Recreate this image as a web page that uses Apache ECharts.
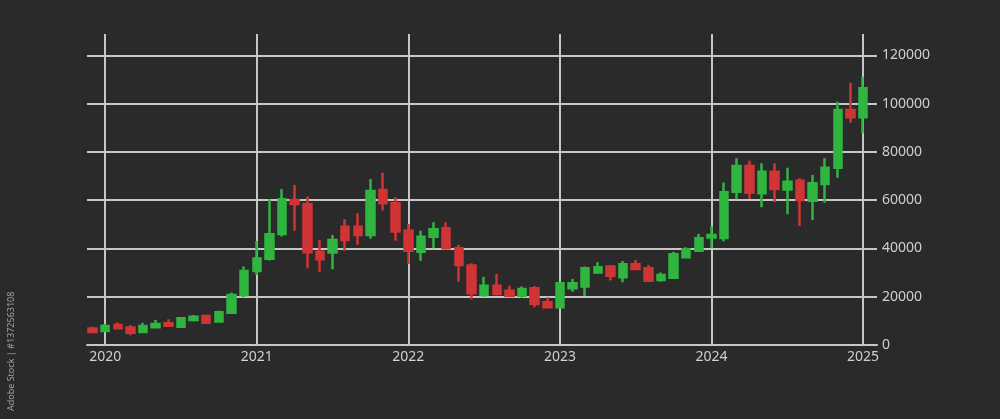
<!DOCTYPE html>
<html>
<head>
<meta charset="utf-8">
<style>
  html, body { margin: 0; padding: 0; background: #2a2a2a; }
  #chart { width: 1000px; height: 419px; }
</style>
<script src="https://cdn.jsdelivr.net/npm/echarts@6/dist/echarts.min.js"></script>
</head>
<body>
<div id="chart"></div>
<script>
const months = [
  '2019-12',
  '2020-01','2020-02','2020-03','2020-04','2020-05','2020-06','2020-07','2020-08','2020-09','2020-10','2020-11','2020-12',
  '2021-01','2021-02','2021-03','2021-04','2021-05','2021-06','2021-07','2021-08','2021-09','2021-10','2021-11','2021-12',
  '2022-01','2022-02','2022-03','2022-04','2022-05','2022-06','2022-07','2022-08','2022-09','2022-10','2022-11','2022-12',
  '2023-01','2023-02','2023-03','2023-04','2023-05','2023-06','2023-07','2023-08','2023-09','2023-10','2023-11','2023-12',
  '2024-01','2024-02','2024-03','2024-04','2024-05','2024-06','2024-07','2024-08','2024-09','2024-10','2024-11','2024-12',
  '2025-01'
];
const opens = [
  6800,
  5800, 8300, 7300, 5400, 7350, 9000, 7600, 10400, 12000, 9700, 13400, 20700,
  30700, 35700, 46000, 60100, 58300, 38700, 38300, 49000, 49000, 45600, 64250, 58700,
  47400, 38700, 44900, 48400, 40100, 32900, 20700, 24600, 22500, 20400, 23500, 17700,
  15600, 23500, 24200, 30100, 32500, 28050, 33450, 31800, 26900, 27900, 36350, 39100,
  44600, 44350, 63550, 74200, 62900, 71800, 64500, 68100, 59800, 66700, 73500, 97400,
  94400
];
const closes = [
  5400,
  7900, 6900, 5100, 7900, 8700, 8000, 11100, 11700, 9250, 13550, 20700, 30700,
  35900, 45900, 60400, 58400, 38400, 35500, 43500, 43500, 45600, 63800, 58700, 47000,
  39100, 44900, 47950, 40100, 33200, 21400, 24600, 21100, 20300, 23200, 17000, 15600,
  25600, 25600, 31800, 32200, 28700, 33450, 31500, 26650, 29000, 37600, 39700, 44200,
  45600, 63300, 74200, 63150, 71800, 64700, 67700, 60100, 67000, 73500, 97400, 94400,
  106400
];
const lows = [
  4900,
  5500, 6800, 4000, 5300, 7300, 7900, 7500, 9700, 9000, 9600, 13300, 19800,
  29000, 35000, 45000, 47400, 31800, 30400, 31400, 39100, 41500, 44000, 55700, 43200,
  33600, 34900, 40100, 39500, 26200, 18900, 20000, 20500, 19800, 19600, 15600, 15500,
  15400, 22100, 20300, 29700, 26700, 26000, 31000, 26200, 26200, 27500, 36000, 38700,
  40300, 43000, 60400, 60500, 57100, 59200, 54200, 49300, 51800, 59000, 69300, 92100,
  87800
];
const highs = [
  7600,
  8700, 9400, 8300, 9250, 10400, 10700, 11300, 12400, 12400, 14200, 21800, 32500,
  43100, 60400, 64700, 66300, 61500, 43500, 45600, 52100, 54600, 68800, 71400, 61200,
  50200, 47400, 50850, 50900, 41500, 33900, 28300, 29400, 24600, 24200, 24450, 19800,
  26200, 27400, 32500, 34300, 33200, 34800, 35200, 33200, 30100, 38700, 40500, 46000,
  49300, 67400, 77400, 76400, 75300, 75300, 73500, 69100, 70500, 77400, 100800, 108700,
  111200
];
const yTicks = [0, 20000, 40000, 60000, 80000, 100000, 120000];

const gridColor = '#c6c6c6';
const textColor = '#d0d0d0';

const candleData = months.map((m, i) => {
  const [y, mo] = m.split('-').map(Number);
  return [y + (mo - 1) / 12, opens[i], closes[i], lows[i], highs[i]];
});

const chart = echarts.init(document.getElementById('chart'), null, { renderer: 'canvas' });
chart.setOption({
  backgroundColor: '#2a2a2a',
  animation: false,
  grid: { left: 87, right: 123, top: 34, bottom: 74 },
  xAxis: {
    type: 'value',
    min: 2019.880,
    max: 2025.092,
    splitNumber: 5,
    axisLine: { show: true, lineStyle: { color: gridColor, width: 2 } },
    axisTick: { show: false },
    axisLabel: {
      color: textColor, fontSize: 14, fontFamily: 'Noto Sans', margin: 5,
      showMinLabel: false, showMaxLabel: false,
      formatter: v => String(Math.round(v))
    },
    splitLine: { show: true, showMinLine: false, showMaxLine: false, lineStyle: { color: gridColor, width: 2 } }
  },
  yAxis: {
    type: 'value',
    position: 'right',
    min: 0,
    max: 128900,
    interval: 20000,
    axisLine: { show: false },
    axisTick: { show: false },
    axisLabel: {
      color: textColor, fontSize: 14, fontFamily: 'Noto Sans', margin: 5,
      showMaxLabel: false,
      formatter: v => (yTicks.indexOf(v) >= 0 ? String(v) : '')
    },
    splitLine: { show: true, showMaxLine: false, lineStyle: { color: gridColor, width: 2 } }
  },
  graphic: [{
    type: 'text',
    x: 11,
    y: 411,
    rotation: Math.PI / 2,
    style: {
      text: 'Adobe Stock | #1372563108',
      fill: '#a0a0a0',
      font: '9px "Noto Sans"',
      align: 'left',
      verticalAlign: 'middle'
    }
  }],
  series: [{
    type: 'candlestick',
    data: candleData,
    encode: { x: 0, y: [1, 2, 3, 4] },
    barWidth: 8,
    itemStyle: {
      color: '#2fb540',
      color0: '#d03434',
      borderColor: '#2fb540',
      borderColor0: '#d03434',
      borderWidth: 2.5
    }
  }]
});
</script>
</body>
</html>
